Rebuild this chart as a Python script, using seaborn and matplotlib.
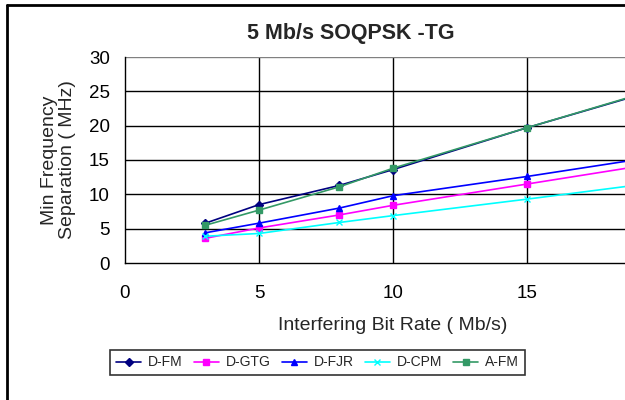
import pandas as pd
import matplotlib.pyplot as plt
import seaborn as sns
from matplotlib.lines import Line2D

# interfering bit rate (Mb/s)
bit_rate = [3, 5, 8, 10, 15, 20]

# min frequency separation (MHz) per interferer
d_fm = [5.8, 8.5, 11.3, 13.6, 19.7, 25.4]
d_gtg = [3.6, 5.1, 7.0, 8.4, 11.5, 14.6]
d_fjr = [4.4, 5.8, 8.0, 9.8, 12.6, 15.6]
d_cpm = [3.9, 4.3, 5.9, 6.9, 9.3, 11.8]
a_fm = [5.5, 7.7, 11.1, 13.8, 19.7, 25.5]

series_names = ["D-FM", "D-GTG", "D-FJR", "D-CPM", "A-FM"]
colors = ["#000080", "#FF00FF", "#0000FF", "#00FFFF", "#339966"]
markers = ["D", "s", "^", "x", "s"]

# the 20 tick sits past the cropped right edge, so only these show
x_ticks = [0, 5, 10, 15]
y_ticks = [0, 5, 10, 15, 20, 25, 30]


def make_plot():
    rows = []
    for name, vals in zip(series_names, [d_fm, d_gtg, d_fjr, d_cpm, a_fm]):
        for x, y in zip(bit_rate, vals):
            rows.append({"rate": x, "sep": y, "series": name})
    df = pd.DataFrame(rows)

    sns.set_style("white")
    plt.rcParams["font.family"] = ["Liberation Sans", "DejaVu Sans"]

    fig = plt.figure(figsize=(6.25, 4), dpi=100)
    # plot area runs past the right edge of the picture (chart is cropped)
    ax = fig.add_axes([0.2, 0.3425, 0.8576, 0.515])

    # grid first, so the series sit on top
    for v in x_ticks[1:]:
        ax.axvline(v, color="black", lw=1.0, zorder=1)
    for v in y_ticks[1:-1]:
        ax.axhline(v, color="black", lw=1.0, zorder=1)
    ax.axhline(30, color="#808080", lw=1.0, zorder=1)

    for name, c, m in zip(series_names, colors, markers):
        sub = df[df["series"] == name]
        sns.lineplot(data=sub, x="rate", y="sep", color=c, marker=m,
                     lw=1.2, markersize=4, markeredgewidth=1.0,
                     markeredgecolor=c, ax=ax, zorder=3)

    ax.set_xlim(0, 20)
    ax.set_ylim(0, 30)
    ax.set_xticks(x_ticks)
    ax.set_yticks(y_ticks)
    ax.tick_params(axis="both", direction="inout", length=6, width=1,
                   colors="black", labelsize=13.5)
    ax.tick_params(axis="y", pad=8)
    ax.tick_params(axis="x", pad=13)
    for s in ["top", "right"]:
        ax.spines[s].set_visible(False)
    for s in ["left", "bottom"]:
        ax.spines[s].set_color("black")
        ax.spines[s].set_linewidth(1.0)

    ax.set_xlabel("Interfering Bit Rate ( Mb/s)", fontsize=14)
    ax.xaxis.set_label_coords(0.5, -0.262)
    ax.set_ylabel("Min Frequency\nSeparation ( MHz)", fontsize=14,
                  linespacing=1.05)
    ax.yaxis.set_label_coords(-0.092, 0.5)

    fig.text(0.562, 0.9175, "5 Mb/s SOQPSK -TG", ha="center", va="center",
             fontsize=15.5, fontweight="bold")

    handles = [Line2D([], [], color=c, marker=m, lw=1.2, markersize=4)
               for c, m in zip(colors, markers)]
    leg = fig.legend(handles, series_names, ncol=5, loc="center",
                     bbox_to_anchor=(0.508, 0.094), fontsize=10, frameon=True,
                     fancybox=False, edgecolor="black", handlelength=1.8,
                     handletextpad=0.5, columnspacing=0.8, borderpad=0.4,
                     borderaxespad=0)
    leg.get_frame().set_linewidth(1.2)

    # outer chart border (left and top, the rest is cropped)
    fig.add_artist(Line2D([0.011, 0.011], [0, 0.988], color="black", lw=2,
                          transform=fig.transFigure))
    fig.add_artist(Line2D([0.011, 1.0], [0.988, 0.988], color="black", lw=2,
                          transform=fig.transFigure))

    fig.savefig("out.png", dpi=100)


if __name__ == "__main__":
    make_plot()
